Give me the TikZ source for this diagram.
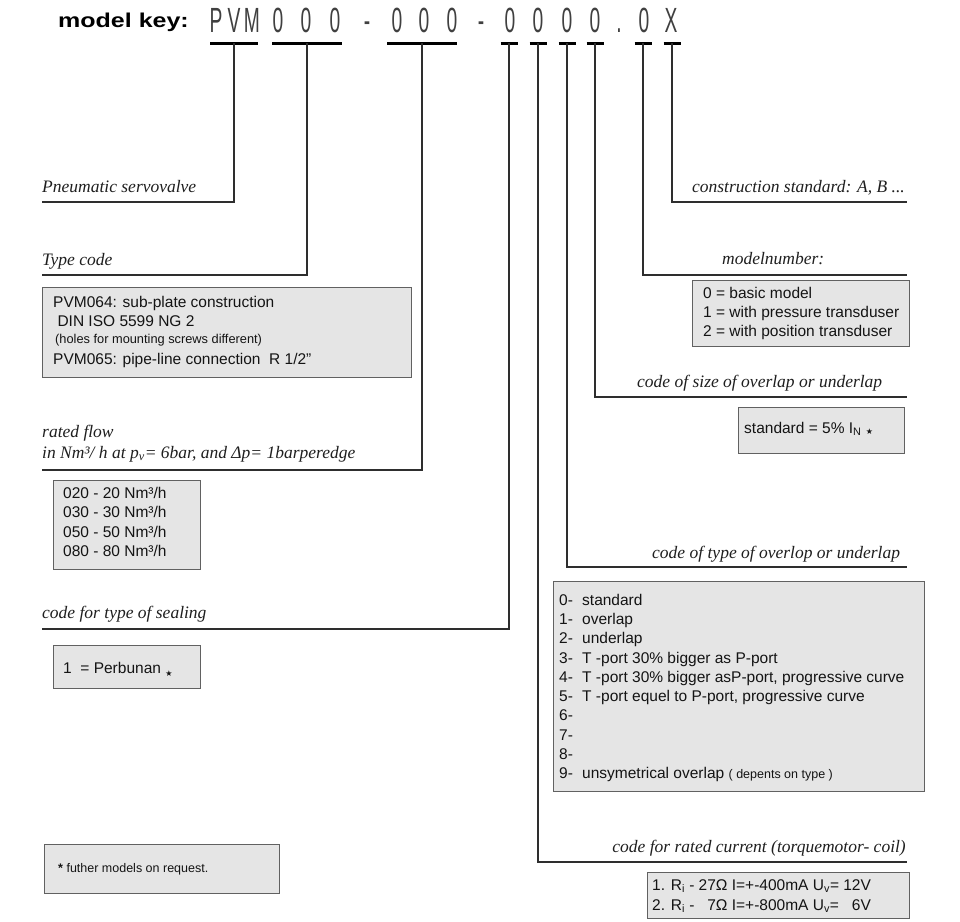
\documentclass[tikz,border=0pt]{standalone}
\usepackage{fontspec}
\setmainfont{Liberation Serif}
\setsansfont{Liberation Sans}
\newfontfamily\djv{DejaVu Sans}
\newcommand{\stsym}[1]{\raisebox{#1}{\djv\fontsize{8}{8}\selectfont ★}}
\begin{document}
\begin{tikzpicture}[x=1pt,y=-1pt,
  lbl/.style={font=\fontsize{17.5}{20}\selectfont\itshape, inner sep=0, text=black!88},
  bx/.style={draw=black!62, fill=black!10, line width=1.2pt, inner sep=0, anchor=north west},
  bt/.style={font=\sffamily\fontsize{15.5}{19}\selectfont, inner sep=0, anchor=base west, text=black!92},
  lead/.style={draw=black!82, line width=1.3pt},
  bar/.style={draw=black, line width=3pt},
  codech/.style={font=\sffamily\fontsize{35}{40}\selectfont, inner sep=0, anchor=base, text=black!75},
  head/.style={font=\sffamily\bfseries\fontsize{20}{24}\selectfont, inner sep=0, anchor=base west}]
\fill[white] (0,0) rectangle (960,921);
\useasboundingbox (0,0) rectangle (960,921);

% heading
\node[head] (mk) at (58,27) {\scalebox{1.25}[1]{model key:}};
\foreach \x/\ch [count=\i] in {216/P,234/V,252/M,278/0,306/0,335/0,367/-,397/0,424/0,452/0,481/-,510/0,538/0,567/0,595/0,619/.,644/0,671/X}
  \node[codech] (ch\i) at (\x,32) {\scalebox{0.55}[1]{\ch}};

% bars
\coordinate (b1) at (234,43);
\coordinate (b2) at (307,43);
\coordinate (b3) at (422,43);
\coordinate (b4) at (509,43);
\coordinate (b5) at (538,43);
\coordinate (b6) at (567,43);
\coordinate (b7) at (595,43);
\coordinate (b8) at (643,43);
\coordinate (b9) at (672,43);
\draw[bar] ([xshift=-24pt]b1) -- ([xshift=24pt]b1);
\draw[bar] ([xshift=-35pt]b2) -- ([xshift=35pt]b2);
\draw[bar] ([xshift=-35pt]b3) -- ([xshift=35pt]b3);
\foreach \b in {b4,b5,b6,b7,b8,b9}
  \draw[bar] ([xshift=-8.5pt]\b) -- ([xshift=8.5pt]\b);

% leader ends
\coordinate (e1) at (42,202);
\coordinate (e2) at (42,275);
\coordinate (e3) at (42,470);
\coordinate (e4) at (42,629);
\coordinate (e5) at (907,862);
\coordinate (e6) at (907,567);
\coordinate (e7) at (907,397);
\coordinate (e8) at (907,275);
\coordinate (e9) at (907,202);
\foreach \i in {1,...,9}
  \draw[lead] (b\i) |- (e\i);

% left labels
\node[lbl, anchor=base west] (l1) at (42,192) {Pneumatic servovalve};
\node[lbl, anchor=base west] (l2) at (42,265) {Type code};
\node[lbl, anchor=base west] (l3a) at (42,437) {rated flow};
\node[lbl, anchor=base west] (l3b) at (42,458) {in Nm³/ h at p\textsubscript{v}= 6bar, and Δp= 1barperedge};
\node[lbl, anchor=base west] (l4) at (42,618) {code for type of sealing};

% right labels
\node[lbl, anchor=base east] (l9) at (905,192) {construction standard: A, B ...};
\node[lbl, anchor=base west] (l8) at (722,264) {modelnumber:};
\node[lbl, anchor=base west] (l7) at (637,387) {code of size of overlap or underlap};
\node[lbl, anchor=base west] (l6) at (652,558) {code of type of overlop or underlap};
\node[lbl, anchor=base east] (l5) at (906,852) {code for rated current (torquemotor- coil)};

% type code box
\node[bx, minimum width=369pt, minimum height=90pt] (tbox) at (42,287) {};
\node[bt] (t1) at (53,307) {PVM064: sub-plate construction};
\node[bt] (t2) at (53,326) {\ DIN ISO 5599 NG 2};
\node[bt, font=\sffamily\fontsize{12.8}{15}\selectfont] (t3) at (55,343) {(holes for mounting screws different)};
\node[bt] (t4) at (53,364) {PVM065: pipe-line connection\ \ R 1/2"};

% flow box
\node[bx, minimum width=147pt, minimum height=89pt] (fbox) at (53,480) {};
\foreach \y/\a/\b [count=\i] in {498/020/20,517/030/30,537/050/50,556/080/80}
  \node[bt] (f\i) at (63,\y) {\a\ - \b\ Nm³/h};

% sealing box
\node[bx, minimum width=147pt, minimum height=43pt] (pbox) at (53,645) {};
\node[bt] (p1) at (63,673) {1\ \ = Perbunan \stsym{-3pt}};

% model box
\node[bx, minimum width=217pt, minimum height=66pt] (mbox) at (692,280) {};
\node[bt] (m1) at (703,298) {0 = basic model};
\node[bt] (m2) at (703,317) {1 = with pressure transduser};
\node[bt] (m3) at (703,336) {2 = with position transduser};

% standard box
\node[bx, minimum width=166pt, minimum height=46pt] (sbox) at (738,407) {};
\node[bt] (s1) at (744,433) {standard = 5\% I\textsubscript{N} \stsym{-1pt}};

% overlap box
\node[bx, minimum width=371pt, minimum height=210pt] (obox) at (553,581) {};
\foreach \n/\t [count=\i from 0] in {0/standard,1/overlap,2/underlap,3/T -port 30\% bigger as P-port,4/{T -port 30\% bigger asP-port, progressive curve},5/{T -port equel to P-port, progressive curve},6/,7/,8/,9/{unsymetrical overlap {\fontsize{12.5}{15}\selectfont( depents on type )}}}
  \node[bt] (o\i) at (559,605+19.33*\i) {\makebox[23pt][l]{\n-}\t};

% current box
\node[bx, minimum width=262pt, minimum height=46pt] (cbox) at (647,872) {};
\node[bt] (c1) at (652,890) {1. R\textsubscript{i} - 27Ω I=+-400mA U\textsubscript{v}= 12V};
\node[bt] (c2) at (652,910) {2. R\textsubscript{i} -\ \ \ 7Ω I=+-800mA U\textsubscript{v}=\ \ \ 6V};

% footnote box
\node[bx, minimum width=235pt, minimum height=49pt] (nbox) at (44,844) {};
\node[bt, font=\sffamily\fontsize{12.5}{15}\selectfont] (n1) at (58,872) {\textbf{*} futher models on request.};
\end{tikzpicture}
\end{document}
